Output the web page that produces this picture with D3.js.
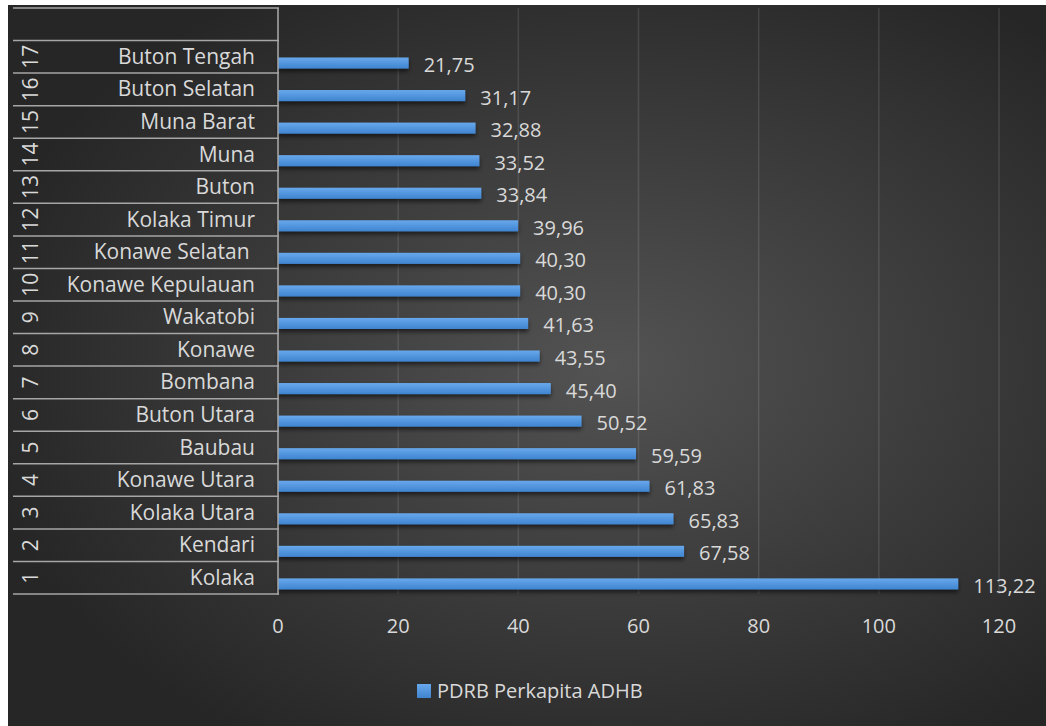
<!DOCTYPE html>
<html>
<head>
<meta charset="utf-8">
<script src="https://cdn.jsdelivr.net/npm/d3@7"></script>
<style>
  body { margin: 0; background: #ffffff; }
  text { font-family: "Open Sans", "Noto Sans", sans-serif; fill: #d9d9d9; }
</style>
</head>
<body>
<div id="chart"></div>
<script>
// data, from bottom (1) to top (17)
var ranks = [1, 2, 3, 4, 5, 6, 7, 8, 9, 10, 11, 12, 13, 14, 15, 16, 17];
var regions = ["Kolaka", "Kendari", "Kolaka Utara", "Konawe Utara", "Baubau", "Buton Utara",
    "Bombana", "Konawe", "Wakatobi", "Konawe Kepulauan", "Konawe Selatan ", "Kolaka Timur",
    "Buton", "Muna", "Muna Barat", "Buton Selatan", "Buton Tengah"];
var pdrb = [113.22, 67.58, 65.83, 61.83, 59.59, 50.52, 45.40, 43.55, 41.63, 40.30, 40.30,
    39.96, 33.84, 33.52, 32.88, 31.17, 21.75];
var xTicks = [0, 20, 40, 60, 80, 100, 120];
var seriesName = "PDRB Perkapita ADHB";

var svg = d3.select("#chart")
    .append("svg")
    .attr("width", 1046)
    .attr("height", 726);

var defs = svg.append("defs");

var bg = defs.append("radialGradient")
    .attr("id", "bg")
    .attr("cx", "58%")
    .attr("cy", "50%")
    .attr("r", "62%");
bg.append("stop").attr("offset", "0%").attr("stop-color", "#535353");
bg.append("stop").attr("offset", "100%").attr("stop-color", "#262626");

var barGrad = defs.append("linearGradient")
    .attr("id", "barGrad")
    .attr("x1", 0).attr("y1", 0).attr("x2", 0).attr("y2", 1);
barGrad.append("stop").attr("offset", "0%").attr("stop-color", "#68a8ec");
barGrad.append("stop").attr("offset", "100%").attr("stop-color", "#3f84d0");

var shadow = defs.append("filter")
    .attr("id", "shadow")
    .attr("x", "-5%").attr("y", "-50%")
    .attr("width", "110%").attr("height", "250%");
shadow.append("feDropShadow")
    .attr("dx", 0)
    .attr("dy", 3)
    .attr("stdDeviation", 2)
    .attr("flood-color", "#000000")
    .attr("flood-opacity", 0.55);

// background
svg.append("rect")
    .attr("x", 8)
    .attr("y", 5)
    .attr("width", 1038)
    .attr("height", 721)
    .attr("fill", "url(#bg)");

var x = d3.scaleLinear()
    .domain([0, 120])
    .range([278, 999]);

// one empty slot at the top, then 17 .. 1
var y = d3.scaleBand()
    .domain(["blank"].concat(ranks.slice().reverse()))
    .range([8, 594])
    .padding(0);

var bw = y.bandwidth();
var rows = ranks.map(function (r, i) {
    return { rank: r, name: regions[i], value: pdrb[i] };
});

// gridlines
svg.append("g")
    .selectAll("line")
    .data(xTicks)
    .enter()
    .append("line")
    .attr("x1", function (d) { return x(d); })
    .attr("x2", function (d) { return x(d); })
    .attr("y1", 8)
    .attr("y2", 594)
    .attr("stroke", "rgba(255,255,255,0.11)")
    .attr("stroke-width", 1.5);

// bars
svg.append("g")
    .selectAll("rect")
    .data(rows)
    .enter()
    .append("rect")
    .attr("x", x(0))
    .attr("y", function (d) { return y(d.rank) + bw * 0.52; })
    .attr("width", function (d) { return x(d.value) - x(0); })
    .attr("height", bw * 0.34)
    .attr("fill", "url(#barGrad)")
    .attr("filter", "url(#shadow)");

// value labels
svg.append("g")
    .selectAll("text")
    .data(rows)
    .enter()
    .append("text")
    .attr("x", function (d) { return x(d.value) + 15; })
    .attr("y", function (d) { return y(d.rank) + bw * 0.69 + 9; })
    .attr("font-size", "20px")
    .text(function (d) { return d3.format(".2f")(d.value).replace(".", ","); });

// category axis table
var axisG = svg.append("g");

axisG.selectAll("line.row")
    .data(y.domain())
    .enter()
    .append("line")
    .attr("class", "row")
    .attr("x1", 13)
    .attr("x2", 279)
    .attr("y1", function (d) { return y(d); })
    .attr("y2", function (d) { return y(d); })
    .attr("stroke", "#a6a6a6")
    .attr("stroke-width", 1.5);

axisG.append("line")
    .attr("x1", 13)
    .attr("x2", 279)
    .attr("y1", 594)
    .attr("y2", 594)
    .attr("stroke", "#a6a6a6")
    .attr("stroke-width", 1.5);

axisG.append("line")
    .attr("x1", 278)
    .attr("x2", 278)
    .attr("y1", 8)
    .attr("y2", 594.75)
    .attr("stroke", "#a6a6a6")
    .attr("stroke-width", 1.5);

axisG.selectAll("text.name")
    .data(rows)
    .enter()
    .append("text")
    .attr("class", "name")
    .attr("x", 255)
    .attr("y", function (d) { return y(d.rank) + bw / 2 + 7; })
    .attr("text-anchor", "end")
    .attr("font-size", "21px")
    .style("white-space", "pre")
    .text(function (d) { return d.name; });

axisG.selectAll("text.rank")
    .data(rows)
    .enter()
    .append("text")
    .attr("class", "rank")
    .attr("transform", function (d) {
        return "translate(38," + (y(d.rank) + bw / 2) + ") rotate(-90)";
    })
    .attr("text-anchor", "middle")
    .attr("font-size", "21px")
    .text(function (d) { return d.rank; });

// value axis labels
svg.append("g")
    .selectAll("text")
    .data(xTicks)
    .enter()
    .append("text")
    .attr("x", function (d) { return x(d); })
    .attr("y", 633)
    .attr("text-anchor", "middle")
    .attr("font-size", "20px")
    .text(function (d) { return d; });

// legend
var legend = svg.append("g");
legend.append("rect")
    .attr("x", 417)
    .attr("y", 684)
    .attr("width", 14)
    .attr("height", 14)
    .attr("fill", "url(#barGrad)");
legend.append("text")
    .attr("x", 437)
    .attr("y", 698)
    .attr("font-size", "20px")
    .text(seriesName);
</script>
</body>
</html>
